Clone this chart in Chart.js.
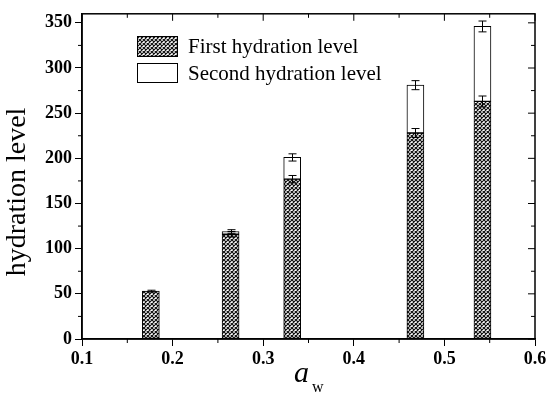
<!DOCTYPE html>
<html>
<head>
<meta charset="utf-8">
<script src="https://cdn.jsdelivr.net/npm/chart.js@4"></script>
<style>
  body { margin: 0; background: #fff; }
  #wrap { width: 550px; height: 399px; position: relative; }
</style>
</head>
<body>
<div id="wrap"><canvas id="hydrationChart"></canvas></div>
<script>
// Chart data
const awValues = [0.176, 0.264, 0.332, 0.468, 0.542];
const firstLevel = [53, 116, 177, 228, 263];
const secondLevel = [0, 3, 24, 53, 83];
const firstErr = [1, 3, 4, 5, 6];
const totalErr = [0, 2, 4, 5, 6];

// Axis ticks
const xTicks = [0.1, 0.2, 0.3, 0.4, 0.5, 0.6];
const xMinorTicks = [0.15, 0.25, 0.35, 0.45, 0.55];
const yTicks = [0, 50, 100, 150, 200, 250, 300, 350];
const yMinorTicks = [25, 75, 125, 175, 225, 275, 325];

const legendLabels = ['First hydration level', 'Second hydration level'];

// Crosshatch fill
function makeHatch() {
    const c = document.createElement('canvas');
    c.width = 4;
    c.height = 4;
    const g = c.getContext('2d');
    g.fillStyle = '#fff';
    g.fillRect(0, 0, 4, 4);
    g.strokeStyle = '#111';
    g.lineWidth = 1.2;
    g.beginPath();
    g.moveTo(0, 0); g.lineTo(4, 4);
    g.moveTo(4, 0); g.lineTo(0, 4);
    g.stroke();
    return g.createPattern(c, 'repeat');
}

// Error bars
const errorBars = {
    id: 'errorBars',
    afterDatasetsDraw(chart) {
        const ctx = chart.ctx;
        const xs = chart.scales.x, ys = chart.scales.y;
        ctx.save();
        ctx.strokeStyle = '#000';
        ctx.lineWidth = 1;
        const draw = (xv, yv, err) => {
            if (!err) return;
            const px = Math.round(xs.getPixelForValue(xv)) + 0.5;
            const top = ys.getPixelForValue(yv + err);
            const bot = ys.getPixelForValue(yv - err);
            ctx.beginPath();
            ctx.moveTo(px, top); ctx.lineTo(px, bot);
            ctx.moveTo(px - 4, top); ctx.lineTo(px + 4, top);
            ctx.moveTo(px - 4, bot); ctx.lineTo(px + 4, bot);
            ctx.stroke();
        };
        awValues.forEach((xv, i) => {
            draw(xv, firstLevel[i], firstErr[i]);
            draw(xv, firstLevel[i] + secondLevel[i], totalErr[i]);
        });
        ctx.restore();
    }
};

// Frame, minor ticks, mirrored ticks, titles and legend
const decorations = {
    id: 'decorations',
    afterDraw(chart) {
        const ctx = chart.ctx;
        const a = chart.chartArea;
        const xs = chart.scales.x, ys = chart.scales.y;
        ctx.save();
        ctx.strokeStyle = '#000';
        ctx.lineWidth = 1.5;
        ctx.strokeRect(a.left, a.top, a.right - a.left, a.bottom - a.top);

        ctx.lineWidth = 1;
        ctx.beginPath();
        xTicks.forEach(v => {
            const p = xs.getPixelForValue(v);
            ctx.moveTo(p, a.top); ctx.lineTo(p, a.top + 7);
        });
        xMinorTicks.forEach(v => {
            const p = xs.getPixelForValue(v);
            ctx.moveTo(p, a.top); ctx.lineTo(p, a.top + 4);
            ctx.moveTo(p, a.bottom); ctx.lineTo(p, a.bottom + 4);
        });
        yTicks.forEach(v => {
            const p = ys.getPixelForValue(v);
            ctx.moveTo(a.right, p); ctx.lineTo(a.right - 7, p);
        });
        yMinorTicks.forEach(v => {
            const p = ys.getPixelForValue(v);
            ctx.moveTo(a.right, p); ctx.lineTo(a.right - 4, p);
            ctx.moveTo(a.left, p); ctx.lineTo(a.left - 4, p);
        });
        ctx.stroke();

        // y title
        ctx.fillStyle = '#000';
        ctx.font = '28px "Liberation Serif", serif';
        ctx.textAlign = 'center';
        ctx.textBaseline = 'middle';
        ctx.save();
        ctx.translate(18, 192);
        ctx.rotate(-Math.PI / 2);
        ctx.fillText('hydration level', 0, 0);
        ctx.restore();

        // x title: a with subscript w
        ctx.textAlign = 'left';
        ctx.textBaseline = 'alphabetic';
        ctx.font = 'italic 30px "Liberation Serif", serif';
        ctx.fillText('a', 294, 382);
        ctx.font = '16px "Liberation Serif", serif';
        ctx.fillText('w', 312, 392);

        // legend
        const fills = chart.data.datasets.map(d => d.backgroundColor);
        const rows = [{ y: 36, h: 20, base: 53 }, { y: 63, h: 19, base: 80 }];
        ctx.font = '21px "Liberation Serif", serif';
        rows.forEach((r, i) => {
            ctx.fillStyle = fills[i];
            ctx.fillRect(137, r.y, 40, r.h);
            ctx.strokeRect(137.5, r.y + 0.5, 40, r.h);
            ctx.fillStyle = '#000';
            ctx.fillText(legendLabels[i], 188, r.base);
        });
        ctx.restore();
    }
};

function buildChart() {
    const ctx = document.getElementById('hydrationChart').getContext('2d');
    const hatch = makeHatch();
    const tickFont = { family: '"Liberation Serif", serif', size: 18, weight: 'bold' };

    new Chart(ctx, {
        type: 'bar',
        data: {
            datasets: [{
                label: legendLabels[0],
                data: awValues.map((x, i) => ({ x: x, y: firstLevel[i] })),
                backgroundColor: hatch,
                borderColor: '#000',
                borderWidth: 1,
                borderSkipped: false,
                barThickness: 17
            }, {
                label: legendLabels[1],
                data: awValues.map((x, i) => ({ x: x, y: secondLevel[i] })),
                backgroundColor: '#fff',
                borderColor: '#000',
                borderWidth: 1,
                borderSkipped: false,
                barThickness: 17
            }]
        },
        options: {
            responsive: true,
            maintainAspectRatio: false,
            animation: false,
            layout: { padding: { left: 0, right: 15, top: 5, bottom: 0 } },
            plugins: {
                legend: { display: false },
                tooltip: { enabled: false }
            },
            scales: {
                x: {
                    type: 'linear',
                    stacked: true,
                    offset: false,
                    min: 0.1,
                    max: 0.6,
                    afterBuildTicks: s => { s.ticks = xTicks.map(v => ({ value: v })); },
                    afterFit: s => { s.height = 60; },
                    border: { display: true, color: '#000', width: 1.5 },
                    grid: { drawOnChartArea: false, drawTicks: true, tickLength: 7, tickColor: '#000', offset: false },
                    ticks: {
                        padding: 3,
                        color: '#000',
                        font: tickFont,
                        callback: v => v.toFixed(1)
                    }
                },
                y: {
                    stacked: true,
                    min: 0,
                    max: 360,
                    afterBuildTicks: s => { s.ticks = yTicks.map(v => ({ value: v })); },
                    afterFit: s => { s.width = 82; },
                    border: { display: true, color: '#000', width: 1.5 },
                    grid: { drawOnChartArea: false, drawTicks: true, tickLength: 7, tickColor: '#000' },
                    ticks: {
                        padding: 3,
                        color: '#000',
                        font: tickFont
                    }
                }
            }
        },
        plugins: [errorBars, decorations]
    });
}

document.addEventListener('DOMContentLoaded', buildChart);
</script>
</body>
</html>
